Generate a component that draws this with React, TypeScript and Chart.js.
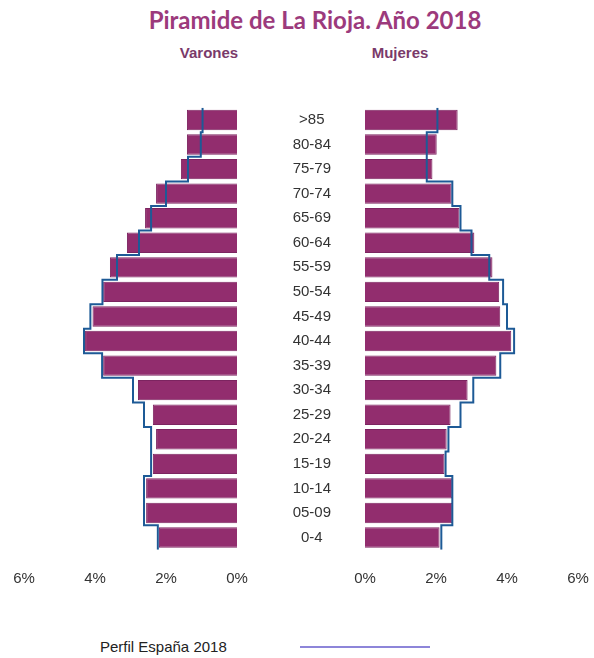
import { useEffect, useRef } from "react";
import Chart from "chart.js/auto";

const categories = [">85", "80-84", "75-79", "70-74", "65-69", "60-64", "55-59", "50-54", "45-49", "40-44", "35-39", "30-34", "25-29", "20-24", "15-19", "10-14", "05-09", "0-4"];
const varonesRioja = [1.41, 1.41, 1.58, 2.28, 2.59, 3.10, 3.58, 3.77, 4.07, 4.28, 3.77, 2.79, 2.37, 2.28, 2.37, 2.56, 2.56, 2.20];
const varonesEspana = [0.97, 1.02, 1.38, 2.0, 2.42, 2.76, 3.38, 3.79, 4.13, 4.31, 3.80, 2.93, 2.62, 2.42, 2.42, 2.62, 2.62, 2.23];
const mujeresRioja = [2.61, 2.02, 1.90, 2.44, 2.66, 3.08, 3.59, 3.78, 3.81, 4.12, 3.70, 2.89, 2.41, 2.30, 2.24, 2.46, 2.46, 2.10];
const mujeresEspana = [2.04, 1.74, 1.74, 2.46, 2.69, 3.00, 3.50, 3.89, 4.00, 4.20, 3.81, 3.05, 2.69, 2.35, 2.27, 2.46, 2.46, 2.15];
const xTickValues = [0, 2, 4, 6];

const TITLE = "Piramide de La Rioja. Año 2018";
const LEFT_LABEL = "Varones";
const RIGHT_LABEL = "Mujeres";
const LEGEND_LABEL = "Perfil España 2018";

const BAR_COLOR = "#922d6e";
const BAR_BORDER = "#7c2460";
const LINE_COLOR = "#1d5a96";
const FONT = "Arial, 'Liberation Sans', sans-serif";

const barPoints = (vals: number[]) => vals.map((v, i) => ({ x: v, y: i }));
const stepPoints = (vals: number[]) =>
  vals.flatMap((v, i) => [
    { x: v, y: i - 0.5 },
    { x: v, y: i + 0.5 },
  ]);

const clearSidePadding = (scale: any) => {
  scale.paddingLeft = 0;
  scale.paddingRight = 0;
};

function makeConfig(side: "left" | "right", bars: number[], profile: number[], barLabel: string): any {
  const isLeft = side === "left";
  return {
    type: "bar",
    data: {
      datasets: [
        {
          type: "bar",
          label: barLabel,
          data: barPoints(bars),
          backgroundColor: BAR_COLOR,
          borderColor: BAR_BORDER,
          borderWidth: 1,
          barPercentage: 0.83,
          categoryPercentage: 1,
          order: 1,
        },
        {
          type: "line",
          label: LEGEND_LABEL,
          data: stepPoints(profile),
          borderColor: LINE_COLOR,
          borderWidth: 2,
          pointRadius: 0,
          fill: false,
          tension: 0,
          order: 0,
        },
      ],
    },
    options: {
      indexAxis: "y",
      responsive: false,
      animation: false,
      layout: {
        padding: isLeft
          ? { left: 24, right: 23, top: 7.7, bottom: 12.2 }
          : { left: 0, right: 16, top: 7.7, bottom: 12.2 },
      },
      plugins: {
        legend: { display: false },
        title: { display: false },
        tooltip: { enabled: false },
      },
      scales: {
        x: {
          type: "linear",
          min: 0,
          max: 6,
          reverse: isLeft,
          afterBuildTicks: (scale: any) => {
            scale.ticks = xTickValues.map((v) => ({ value: v }));
          },
          afterFit: clearSidePadding,
          ticks: {
            callback: (v: any) => v + "%",
            font: { family: FONT, size: 15 },
            color: "#333333",
            padding: 20,
            maxRotation: 0,
          },
          grid: { display: false, drawTicks: false },
          border: { display: false },
        },
        y: {
          type: "linear",
          offset: false,
          min: -0.5,
          max: categories.length - 0.5,
          reverse: true,
          display: !isLeft,
          position: "left",
          afterBuildTicks: (scale: any) => {
            scale.ticks = categories.map((_, i) => ({ value: i }));
          },
          afterFit: (scale: any) => {
            scale.paddingTop = 0;
            scale.paddingBottom = 0;
            if (!isLeft) scale.width = 128;
          },
          ticks: {
            callback: (v: any) => categories[v],
            autoSkip: false,
            crossAlign: "center",
            padding: 34,
            font: { family: FONT, size: 15 },
            color: "#333333",
          },
          grid: { display: false, drawTicks: false },
          border: { display: false },
        },
      },
    },
  };
}

export default function App() {
  const leftRef = useRef<HTMLCanvasElement>(null);
  const rightRef = useRef<HTMLCanvasElement>(null);

  useEffect(() => {
    document.body.style.margin = "0";
    const l = new Chart(leftRef.current!, makeConfig("left", varonesRioja, varonesEspana, LEFT_LABEL));
    const r = new Chart(rightRef.current!, makeConfig("right", mujeresRioja, mujeresEspana, RIGHT_LABEL));
    return () => {
      l.destroy();
      r.destroy();
    };
  }, []);

  return (
    <div style={{ position: "absolute", left: 0, top: 0, width: 594, height: 658, background: "#fff", overflow: "hidden" }}>
      <div
        style={{
          position: "absolute",
          left: 0,
          width: 630,
          top: 5,
          textAlign: "center",
          fontFamily: "Lato, 'Open Sans', sans-serif",
          fontWeight: 700,
          fontSize: 24,
          color: "#9c3a7c",
          lineHeight: "30px",
        }}
      >
        {TITLE}
      </div>
      <div
        style={{
          position: "absolute",
          left: 159,
          width: 100,
          top: 44,
          textAlign: "center",
          fontFamily: FONT,
          fontWeight: 700,
          fontSize: 15,
          color: "#7a3a6a",
          lineHeight: "18px",
        }}
      >
        {LEFT_LABEL}
      </div>
      <div
        style={{
          position: "absolute",
          left: 350,
          width: 100,
          top: 44,
          textAlign: "center",
          fontFamily: FONT,
          fontWeight: 700,
          fontSize: 15,
          color: "#7a3a6a",
          lineHeight: "18px",
        }}
      >
        {RIGHT_LABEL}
      </div>
      <canvas ref={leftRef} width={260} height={520} style={{ position: "absolute", left: 0, top: 100 }} />
      <canvas ref={rightRef} width={357} height={520} style={{ position: "absolute", left: 237, top: 100 }} />
      <div
        style={{
          position: "absolute",
          left: 100,
          top: 638,
          fontFamily: FONT,
          fontSize: 15,
          color: "#222",
          lineHeight: "18px",
          whiteSpace: "nowrap",
        }}
      >
        {LEGEND_LABEL}
      </div>
      <div style={{ position: "absolute", left: 300, top: 646, width: 130, height: 2, background: "#8d85d9" }} />
    </div>
  );
}
